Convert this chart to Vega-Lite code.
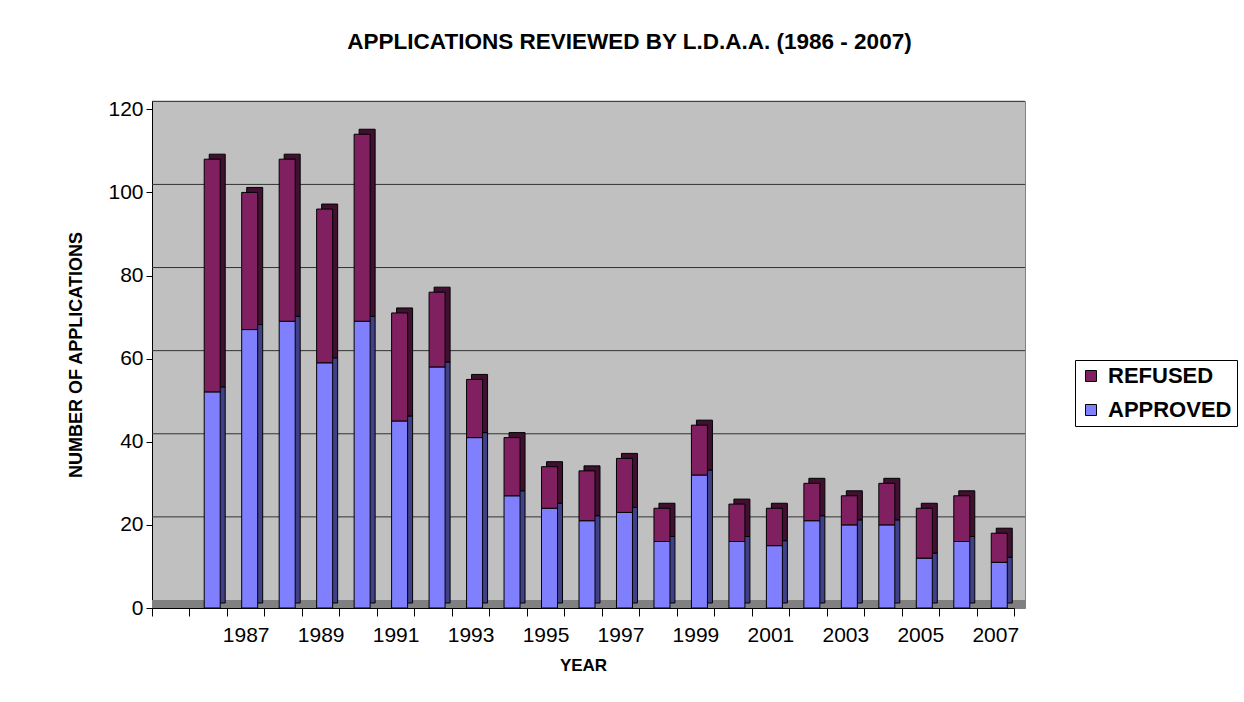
{
  "$schema": "https://vega.github.io/schema/vega-lite/v6.json",
  "width": 873,
  "height": 507,
  "autosize": {"type": "none"},
  "padding": {"left": 152, "top": 101, "right": 219, "bottom": 94},
  "background": "white",
  "config": {
    "view": {"fill": "#C0C0C0", "stroke": "#808080"},
    "font": "Liberation Sans"
  },
  "title": {
    "text": "APPLICATIONS REVIEWED BY L.D.A.A. (1986 - 2007)",
    "fontSize": 22.5,
    "fontWeight": "bold",
    "font": "Liberation Sans",
    "color": "#000000",
    "anchor": "middle",
    "dx": 41,
    "offset": 45
  },
  "data": {
    "values": [
      {"year": 1986, "status": "APPROVED", "n": 52}, {"year": 1986, "status": "REFUSED", "n": 56},
      {"year": 1987, "status": "APPROVED", "n": 67}, {"year": 1987, "status": "REFUSED", "n": 33},
      {"year": 1988, "status": "APPROVED", "n": 69}, {"year": 1988, "status": "REFUSED", "n": 39},
      {"year": 1989, "status": "APPROVED", "n": 59}, {"year": 1989, "status": "REFUSED", "n": 37},
      {"year": 1990, "status": "APPROVED", "n": 69}, {"year": 1990, "status": "REFUSED", "n": 45},
      {"year": 1991, "status": "APPROVED", "n": 45}, {"year": 1991, "status": "REFUSED", "n": 26},
      {"year": 1992, "status": "APPROVED", "n": 58}, {"year": 1992, "status": "REFUSED", "n": 18},
      {"year": 1993, "status": "APPROVED", "n": 41}, {"year": 1993, "status": "REFUSED", "n": 14},
      {"year": 1994, "status": "APPROVED", "n": 27}, {"year": 1994, "status": "REFUSED", "n": 14},
      {"year": 1995, "status": "APPROVED", "n": 24}, {"year": 1995, "status": "REFUSED", "n": 10},
      {"year": 1996, "status": "APPROVED", "n": 21}, {"year": 1996, "status": "REFUSED", "n": 12},
      {"year": 1997, "status": "APPROVED", "n": 23}, {"year": 1997, "status": "REFUSED", "n": 13},
      {"year": 1998, "status": "APPROVED", "n": 16}, {"year": 1998, "status": "REFUSED", "n": 8},
      {"year": 1999, "status": "APPROVED", "n": 32}, {"year": 1999, "status": "REFUSED", "n": 12},
      {"year": 2000, "status": "APPROVED", "n": 16}, {"year": 2000, "status": "REFUSED", "n": 9},
      {"year": 2001, "status": "APPROVED", "n": 15}, {"year": 2001, "status": "REFUSED", "n": 9},
      {"year": 2002, "status": "APPROVED", "n": 21}, {"year": 2002, "status": "REFUSED", "n": 9},
      {"year": 2003, "status": "APPROVED", "n": 20}, {"year": 2003, "status": "REFUSED", "n": 7},
      {"year": 2004, "status": "APPROVED", "n": 20}, {"year": 2004, "status": "REFUSED", "n": 10},
      {"year": 2005, "status": "APPROVED", "n": 12}, {"year": 2005, "status": "REFUSED", "n": 12},
      {"year": 2006, "status": "APPROVED", "n": 16}, {"year": 2006, "status": "REFUSED", "n": 11},
      {"year": 2007, "status": "APPROVED", "n": 11}, {"year": 2007, "status": "REFUSED", "n": 7}
    ]
  },
  "resolve": {"scale": {"color": "independent"}, "legend": {"color": "independent"}},
  "layer": [
    {
      "data": {"values": [{"g": 20}, {"g": 40}, {"g": 60}, {"g": 80}, {"g": 100}, {"g": 120}]},
      "mark": {"type": "rule", "color": "#333333", "strokeWidth": 1, "yOffset": -8},
      "encoding": {
        "y": {"field": "g", "type": "quantitative", "title": "NUMBER OF APPLICATIONS"}
      }
    },
    {
      "data": {"values": [{"f": 0}]},
      "mark": {"type": "rule", "color": "#808080", "strokeWidth": 8, "yOffset": -4},
      "encoding": {
        "y": {"field": "f", "type": "quantitative", "title": "NUMBER OF APPLICATIONS"}
      }
    },
    {
      "mark": {"type": "bar", "width": 16, "xOffset": 9, "yOffset": -5, "stroke": "#000000", "strokeWidth": 1},
      "encoding": {
        "x": {"field": "year", "type": "ordinal", "title": "YEAR"},
        "y": {"field": "n", "type": "quantitative", "stack": "zero", "title": "NUMBER OF APPLICATIONS"},
        "order": {"field": "status", "sort": "ascending"},
        "color": {
          "field": "status",
          "type": "nominal",
          "scale": {"domain": ["REFUSED", "APPROVED"], "range": ["#401030", "#404088"]},
          "legend": null
        }
      }
    },
    {
      "mark": {"type": "bar", "width": 16, "xOffset": 4, "stroke": "#000000", "strokeWidth": 1},
      "encoding": {
        "x": {
          "field": "year",
          "type": "ordinal",
          "scale": {
            "domain": [1985, 1986, 1987, 1988, 1989, 1990, 1991, 1992, 1993, 1994, 1995, 1996, 1997, 1998, 1999, 2000, 2001, 2002, 2003, 2004, 2005, 2006, 2007],
            "range": [0, 862],
            "paddingInner": 0,
            "paddingOuter": 0
          },
          "axis": {
            "title": "YEAR",
            "titleFontSize": 17,
            "titleFontWeight": "bold",
            "titleColor": "#000000",
            "titlePadding": 12,
            "labelFontSize": 21,
            "labelColor": "#000000",
            "labelPadding": 19,
            "labelAngle": 0,
            "labelAlign": "center",
            "labelOverlap": false,
            "labelExpr": "(datum.value % 2 == 1 && datum.value > 1985) ? datum.label : ''",
            "tickBand": "extent",
            "tickSize": 8,
            "tickColor": "#000000",
            "domainColor": "#000000",
            "grid": false
          }
        },
        "y": {
          "field": "n",
          "type": "quantitative",
          "stack": "zero",
          "scale": {"domain": [0, 122], "nice": false},
          "axis": {
            "title": "NUMBER OF APPLICATIONS",
            "titleFontSize": 18,
            "titleFontWeight": "bold",
            "titleColor": "#000000",
            "titlePadding": 22,
            "labelFontSize": 21,
            "labelColor": "#000000",
            "labelPadding": 3,
            "tickSize": 6,
            "tickColor": "#000000",
            "domainColor": "#000000",
            "values": [0, 20, 40, 60, 80, 100, 120],
            "grid": false
          }
        },
        "order": {"field": "status", "sort": "ascending"},
        "color": {
          "field": "status",
          "type": "nominal",
          "scale": {"domain": ["REFUSED", "APPROVED"], "range": ["#802060", "#8080FF"]},
          "legend": {
            "title": null,
            "orient": "none",
            "legendX": 923,
            "legendY": 259,
            "direction": "vertical",
            "labelFontSize": 22,
            "labelFontWeight": "bold",
            "labelFont": "Liberation Sans",
            "labelColor": "#000000",
            "symbolType": "square",
            "symbolSize": 121,
            "symbolStrokeColor": "#000000",
            "symbolStrokeWidth": 1,
            "symbolOpacity": 1,
            "fillColor": "white",
            "strokeColor": "#000000",
            "padding": 5,
            "rowPadding": 12,
            "labelOffset": 6
          }
        }
      }
    }
  ]
}
